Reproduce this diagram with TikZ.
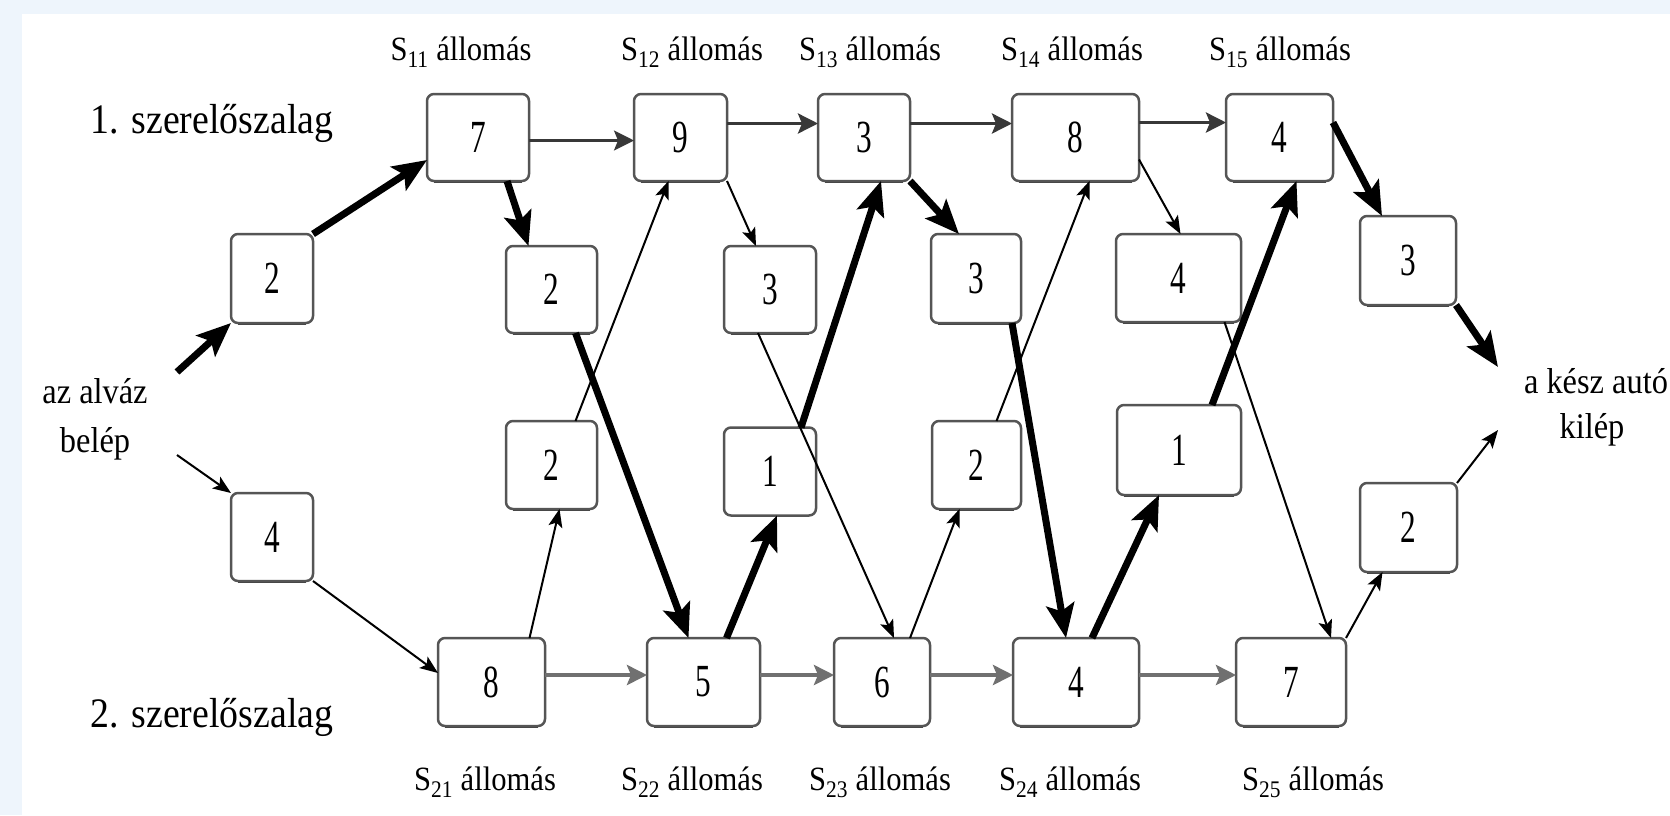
\documentclass[tikz,border=0pt]{standalone}
\usepackage{fontspec}
\setmainfont{Liberation Serif}
\newfontfamily\digitfont[FakeStretch=0.68]{Liberation Serif}
\newfontfamily\labelfont[FakeStretch=0.9]{Liberation Serif}
\usetikzlibrary{arrows.meta,calc}
\definecolor{bandblue}{HTML}{EEF5FC}
\definecolor{boxgray}{HTML}{555555}
\definecolor{toplinegray}{HTML}{383838}
\definecolor{botlinegray}{HTML}{707070}
\tikzset{
  box/.style={draw=boxgray, line width=2.5pt, rounded corners=7pt, fill=white,
    inner sep=0pt, outer sep=0pt, font=\digitfont\fontsize{46}{46}\selectfont,
    append after command={
      \pgfextra{\draw[draw=black!75, line width=3.5pt]
        ([xshift=7pt]\tikzlastnode.south west) -- ([xshift=-7pt]\tikzlastnode.south east);}
    }},
  stlabel/.style={anchor=base, inner sep=0pt, font=\labelfont\fontsize{34}{34}\selectfont},
  linelabel/.style={anchor=base, inner sep=0pt, font=\labelfont\fontsize{42}{42}\selectfont},
  endlabel/.style={anchor=base, inner sep=0pt, font=\labelfont\fontsize{36}{36}\selectfont},
  thickarrow/.style={line width=7pt, -{Stealth[length=34pt,width=28pt,inset=7pt]}},
  thinarrow/.style={line width=2pt, -{Stealth[length=18pt,width=14pt,inset=4pt]}},
  toparrow/.style={draw=toplinegray, line width=3.5pt, -{Stealth[length=20pt,width=20pt,inset=4pt]}},
  botarrow/.style={draw=botlinegray, line width=4.5pt, -{Stealth[length=20pt,width=20pt,inset=4pt]}}
}
\begin{document}
\begin{tikzpicture}[x=1pt,y=-1pt]
\useasboundingbox (0,0) rectangle (1670,815);
\fill[bandblue] (0,0) rectangle (1670,815);
\fill[white] (22,14) rectangle (1670,815);

% line labels
\node[linelabel] (L1) at (212,133) {1. szerelőszalag};
\node[linelabel] (L2) at (212,727) {2. szerelőszalag};
\node[endlabel] (in) at (95,403) {az alváz};
\node[endlabel] (inb) at (95,452) {belép};
\node[endlabel] (out) at (1596,393) {a kész autó};
\node[endlabel] (outb) at (1592,438) {kilép};

% station labels
\node[stlabel] (s11) at (461,60) {S\textsubscript{11} állomás};
\node[stlabel] (s12) at (692,60) {S\textsubscript{12} állomás};
\node[stlabel] (s13) at (870,60) {S\textsubscript{13} állomás};
\node[stlabel] (s14) at (1072,60) {S\textsubscript{14} állomás};
\node[stlabel] (s15) at (1280,60) {S\textsubscript{15} állomás};
\node[stlabel] (s21) at (485,790) {S\textsubscript{21} állomás};
\node[stlabel] (s22) at (692,790) {S\textsubscript{22} állomás};
\node[stlabel] (s23) at (880,790) {S\textsubscript{23} állomás};
\node[stlabel] (s24) at (1070,790) {S\textsubscript{24} állomás};
\node[stlabel] (s25) at (1313,790) {S\textsubscript{25} állomás};

% boxes: line 1
\node[box, minimum width=102pt, minimum height=87pt] (T1) at (478,137.5) {7};
\node[box, minimum width=93pt, minimum height=87pt] (T2) at (680.5,137.5) {9};
\node[box, minimum width=92pt, minimum height=87pt] (T3) at (864,137.5) {3};
\node[box, minimum width=127pt, minimum height=87pt] (T4) at (1075.5,137.5) {8};
\node[box, minimum width=107pt, minimum height=87pt] (T5) at (1279.5,137.5) {4};
% entry
\node[box, minimum width=82pt, minimum height=89pt] (E1) at (272,278.5) {2};
\node[box, minimum width=82pt, minimum height=88pt] (E2) at (272,537) {4};
% transfers 1 -> 2
\node[box, minimum width=91pt, minimum height=87pt] (D1) at (551.5,289.5) {2};
\node[box, minimum width=92pt, minimum height=87pt] (D2) at (770,289.5) {3};
\node[box, minimum width=90pt, minimum height=89pt] (D3) at (976,278.5) {3};
\node[box, minimum width=125pt, minimum height=88pt] (D4) at (1178.5,278) {4};
\node[box, minimum width=96pt, minimum height=89pt] (X1) at (1408,260.5) {3};
% transfers 2 -> 1
\node[box, minimum width=91pt, minimum height=88pt] (U1) at (551.5,465) {2};
\node[box, minimum width=92pt, minimum height=88pt] (U2) at (770,471.5) {1};
\node[box, minimum width=89pt, minimum height=88pt] (U3) at (976.5,465) {2};
\node[box, minimum width=124pt, minimum height=90pt] (U4) at (1179,450) {1};
\node[box, minimum width=97pt, minimum height=89pt] (X2) at (1408.5,527.5) {2};
% line 2
\node[box, minimum width=107pt, minimum height=88pt] (B1) at (491.5,682) {8};
\node[box, minimum width=113pt, minimum height=88pt] (B2) at (703.5,682) {5};
\node[box, minimum width=96pt, minimum height=88pt] (B3) at (882,682) {6};
\node[box, minimum width=126pt, minimum height=88pt] (B4) at (1076,682) {4};
\node[box, minimum width=110pt, minimum height=88pt] (B5) at (1291,682) {7};

% free ends
\coordinate (in1) at (177,372);
\coordinate (in2) at (177,455);
\coordinate (out1) at (1498,367);
\coordinate (out2) at (1498,430);

% entry arrows
\draw[thickarrow] (in1) -- (E1.south west);
\draw[thickarrow] (E1.north east) -- ([yshift=-22.5pt]T1.west);
\draw[thinarrow] (in2) -- (E2.north west);
\draw[thinarrow] (E2.south east) -- ([yshift=9pt]B1.west);

% line 1 horizontals
\draw[toparrow, line width=2.5pt] ([yshift=-3pt]T1.east) -- ([yshift=-3pt]T2.west);
\draw[toparrow] ([yshift=14pt]T2.east) -- ([yshift=14pt]T3.west);
\draw[toparrow] ([yshift=14pt]T3.east) -- ([yshift=14pt]T4.west);
\draw[toparrow] ([yshift=15pt]T4.east) -- ([yshift=15pt]T5.west);

% line 2 horizontals
\draw[botarrow] ([yshift=7pt]B1.east) -- ([yshift=7pt]B2.west);
\draw[botarrow] ([yshift=7pt]B2.east) -- ([yshift=7pt]B3.west);
\draw[botarrow] ([yshift=7pt]B3.east) -- ([yshift=7pt]B4.west);
\draw[botarrow] ([yshift=7pt]B4.east) -- ([yshift=7pt]B5.west);

% transfers
\draw[thickarrow] ([xshift=29pt]T1.south) -- ([xshift=-23pt]D1.north);
\draw[thinarrow] (T2.south east) -- ([xshift=-14pt]D2.north);
\draw[thickarrow] ([xshift=24pt]D1.south) -- ([xshift=-15pt]B2.north);
\draw[thinarrow] ([xshift=38pt]B1.north) -- ([xshift=8pt]U1.south);
\draw[thinarrow] ([xshift=24pt]U1.north) -- ([xshift=-12pt]T2.south);
\draw[thinarrow] ([xshift=-12pt]D2.south) -- ([xshift=12pt]B3.north);
\draw[thickarrow] ([xshift=23pt]B2.north) -- ([xshift=7pt]U2.south);
\draw[thickarrow] ([xshift=31pt]U2.north) -- ([xshift=17pt]T3.south);
\draw[thickarrow] (T3.south east) -- ([xshift=-17pt]D3.north);
\draw[thickarrow] ([xshift=36pt]D3.south) -- ([xshift=-10pt]B4.north);
\draw[thinarrow] ([xshift=28pt]B3.north) -- ([xshift=-17pt]U3.south);
\draw[thinarrow] ([xshift=20pt]U3.north) -- ([xshift=14pt]T4.south);
\draw[thinarrow] ([yshift=-22pt]T4.east) -- ([xshift=2pt]D4.north);
\draw[thinarrow] ([xshift=46pt]D4.south) -- ([xshift=40pt]B5.north);
\draw[thickarrow] ([xshift=16pt]B4.north) -- ([xshift=-20pt]U4.south);
\draw[thickarrow] ([xshift=33pt]U4.north) -- ([xshift=17pt]T5.south);
\draw[thickarrow] ([yshift=15pt]T5.east) -- ([xshift=-26pt]X1.north);
\draw[thickarrow] (X1.south east) -- (out1);
\draw[thinarrow] (B5.north east) -- ([xshift=-26pt]X2.south);
\draw[thinarrow] (X2.north east) -- (out2);
\end{tikzpicture}
\end{document}
